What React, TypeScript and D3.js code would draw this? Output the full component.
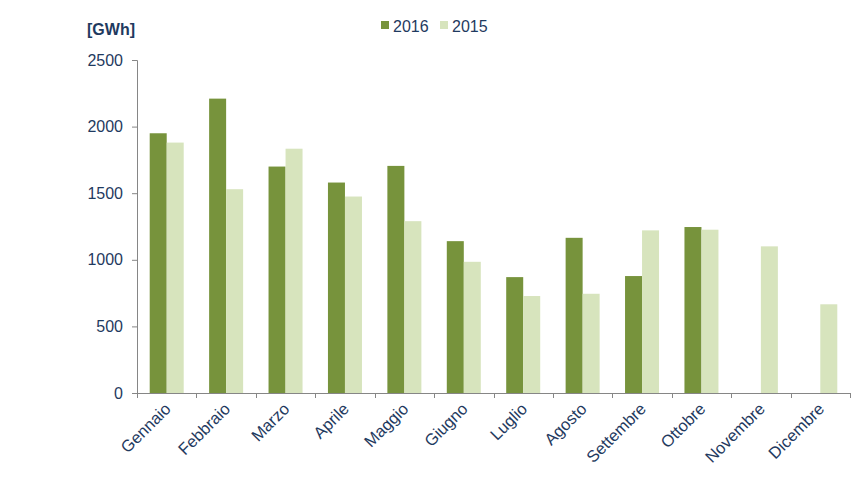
import { useEffect, useRef } from 'react';
import * as d3 from 'd3';

const months = [
  'Gennaio', 'Febbraio', 'Marzo', 'Aprile', 'Maggio', 'Giugno',
  'Luglio', 'Agosto', 'Settembre', 'Ottobre', 'Novembre', 'Dicembre'
];
const values2016: (number | null)[] = [1950, 2210, 1700, 1580, 1705, 1140, 870, 1165, 878, 1246, null, null];
const values2015: number[] = [1880, 1530, 1834, 1475, 1290, 985, 728, 745, 1221, 1226, 1101, 666];
const yTicks = [0, 500, 1000, 1500, 2000, 2500];

const series = [
  { label: '2016', values: values2016, color: '#77933C' },
  { label: '2015', values: values2015, color: '#D7E4BD' }
];

const textColor = '#1F3A60';
const font = '"Liberation Sans", Arial, sans-serif';

export default function App() {
  const ref = useRef<SVGSVGElement | null>(null);

  useEffect(() => {
    if (!ref.current) return;
    const svg = d3.select(ref.current);
    svg.selectAll('*').remove();

    const margin = { left: 137, right: 15, top: 60, bottom: 94 };
    const width = 865;
    const height = 487;
    const innerW = width - margin.left - margin.right;
    const innerH = height - margin.top - margin.bottom;

    const x0 = d3.scaleBand().domain(months).range([0, innerW]);
    const groupW = 34;
    const x1 = d3
      .scaleBand()
      .domain(series.map((s) => s.label))
      .range([(x0.bandwidth() - groupW) / 2, (x0.bandwidth() + groupW) / 2]);
    const y = d3.scaleLinear().domain([0, 2500]).range([innerH, 0]);

    const g = svg.append('g').attr('transform', `translate(${margin.left},${margin.top})`);

    // bars
    series.forEach((s) => {
      g.selectAll(null)
        .data(months.map((m, i) => ({ m, v: s.values[i] })).filter((d) => d.v != null))
        .enter()
        .append('rect')
        .attr('x', (d) => (x0(d.m) || 0) + (x1(s.label) || 0))
        .attr('y', (d) => y(d.v as number))
        .attr('width', x1.bandwidth())
        .attr('height', (d) => innerH - y(d.v as number))
        .attr('fill', s.color);
    });

    // y axis
    const yAxis = g
      .append('g')
      .call(d3.axisLeft(y).tickValues(yTicks).tickSize(5).tickPadding(9).tickFormat((d) => String(d)));
    yAxis.select('.domain').attr('stroke', '#868686').attr('d', `M-5,0.5H0.5V${innerH}`);
    yAxis.selectAll('.tick line').attr('stroke', '#868686');
    yAxis
      .selectAll('.tick text')
      .attr('fill', textColor)
      .style('font-family', font)
      .style('font-size', '16px');

    // x axis
    const xAxisG = g.append('g').attr('transform', `translate(0,${innerH})`);
    xAxisG
      .append('line')
      .attr('x1', 0)
      .attr('x2', innerW)
      .attr('y1', 0.5)
      .attr('y2', 0.5)
      .attr('stroke', '#868686');
    const bounds = months.map((m) => x0(m) || 0).concat([innerW]);
    xAxisG
      .selectAll(null)
      .data(bounds)
      .enter()
      .append('line')
      .attr('x1', (d) => Math.round(d) + 0.5)
      .attr('x2', (d) => Math.round(d) + 0.5)
      .attr('y1', 0)
      .attr('y2', 5)
      .attr('stroke', '#868686');
    xAxisG
      .selectAll(null)
      .data(months)
      .enter()
      .append('text')
      .attr('transform', (d) => `translate(${(x0(d) || 0) + x0.bandwidth() / 2 + 5},${17}) rotate(-45)`)
      .attr('text-anchor', 'end')
      .attr('fill', textColor)
      .style('font-family', font)
      .style('font-size', '16.5px')
      .text((d) => d);

    // unit label
    svg
      .append('text')
      .attr('x', 87)
      .attr('y', 35)
      .attr('fill', textColor)
      .style('font-family', font)
      .style('font-size', '16px')
      .style('font-weight', 'bold')
      .text('[GWh]');

    // legend
    const legendX = [381, 440];
    series.forEach((s, i) => {
      const lg = svg.append('g').attr('transform', `translate(${legendX[i]},21)`);
      lg.append('rect').attr('width', 8).attr('height', 8).attr('fill', s.color);
      lg.append('text')
        .attr('x', 12)
        .attr('y', 10.5)
        .attr('fill', textColor)
        .style('font-family', font)
        .style('font-size', '16px')
        .text(s.label);
    });
  }, []);

  return (
    <svg
      ref={ref}
      width={865}
      height={487}
      style={{ position: 'absolute', left: 0, top: 0, background: '#fff' }}
    />
  );
}
